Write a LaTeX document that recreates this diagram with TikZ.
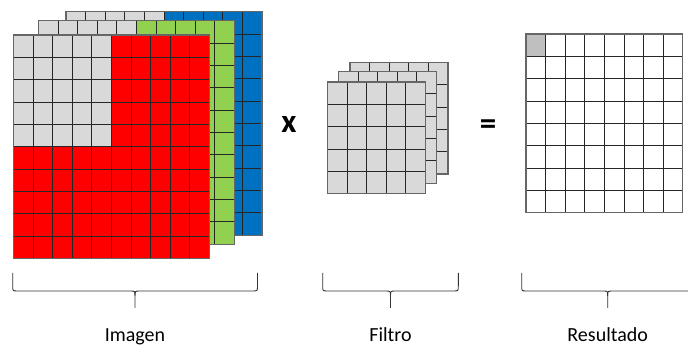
\documentclass[tikz,border=0pt]{standalone}
\usepackage{fontspec}
\setmainfont{Carlito}
\definecolor{cellgray}{HTML}{D9D9D9}
\definecolor{markgray}{HTML}{BFBFBF}
\definecolor{chanred}{HTML}{FF0000}
\definecolor{changreen}{HTML}{92D050}
\definecolor{chanblue}{HTML}{0070C0}
% cell size (pt)
\newcommand\cellw{19.6}
\newcommand\cellh{22.35}
% #1,#2 top-left corner; #3 columns; #4 rows; #5 base colour;
% #6 size of the square patch in the top-left corner; #7 patch colour
\newcommand\gridlayer[7]{%
  \fill[#5] (#1,#2) rectangle ++(#3*\cellw,#4*\cellh);
  \fill[#7] (#1,#2) rectangle ++(#6*\cellw,#6*\cellh);
  \foreach \i in {0,...,#3} \draw[cellline] (#1+\i*\cellw,#2) -- ++(0,#4*\cellh);
  \foreach \j in {0,...,#4} \draw[cellline] (#1,#2+\j*\cellh) -- ++(#3*\cellw,0);
  \draw[frameline] (#1,#2) rectangle ++(#3*\cellw,#4*\cellh);
}
% curly brace under a group: #1 left end, #2 right end, #3 tip
\newcommand\groupbrace[3]{%
  \draw[bracestyle] (#1,273) -- (#1,286) .. controls (#1,291) .. (#1+5,291)
    -- (#3-5,291) .. controls (#3,291) .. (#3,296) -- (#3,308);
  \draw[bracestyle] (#2,273) -- (#2,286) .. controls (#2,291) .. (#2-5,291)
    -- (#3+5,291) .. controls (#3,291) .. (#3,296);
}
\begin{document}
\begin{tikzpicture}[x=1pt,y=-1pt,
  cellline/.style={draw=black!85,line width=0.8pt},
  frameline/.style={draw=black!60,line width=1.3pt},
  bracestyle/.style={draw=black!80,line width=0.9pt,line join=round},
  caption/.style={font=\fontsize{20}{24}\selectfont,anchor=base,inner sep=0pt},
  opsign/.style={font=\bfseries\fontsize{33}{38}\selectfont,anchor=base,inner sep=0pt}]
\useasboundingbox (0,0) rectangle (688,347);

% input image: three colour channels
\gridlayer{66}{11.7}{10}{10}{chanblue}{5}{cellgray}
\gridlayer{38.3}{20.7}{10}{10}{changreen}{5}{cellgray}
\gridlayer{13.3}{35}{10}{10}{chanred}{5}{cellgray}

% filter stack
\gridlayer{350}{62.3}{5}{5}{cellgray}{0}{cellgray}
\gridlayer{338.3}{71.5}{5}{5}{cellgray}{0}{cellgray}
\gridlayer{327.3}{82}{5}{5}{cellgray}{0}{cellgray}

% result map
\gridlayer{526}{34}{8}{8}{white}{1}{markgray}

% operators
\node[opsign] (times) at (289,132.5) {x};
\node[opsign] (equals) at (488,135) {=};

% braces and captions
\groupbrace{12.7}{257.5}{135}
\groupbrace{322.7}{458.3}{390.5}
\groupbrace{521.7}{693.7}{607.7}
\node[caption] (imagen) at (135,341.5) {Imagen};
\node[caption] (filtro) at (390.5,341.5) {Filtro};
\node[caption] (resultado) at (607.7,341.5) {Resultado};
\end{tikzpicture}
\end{document}
